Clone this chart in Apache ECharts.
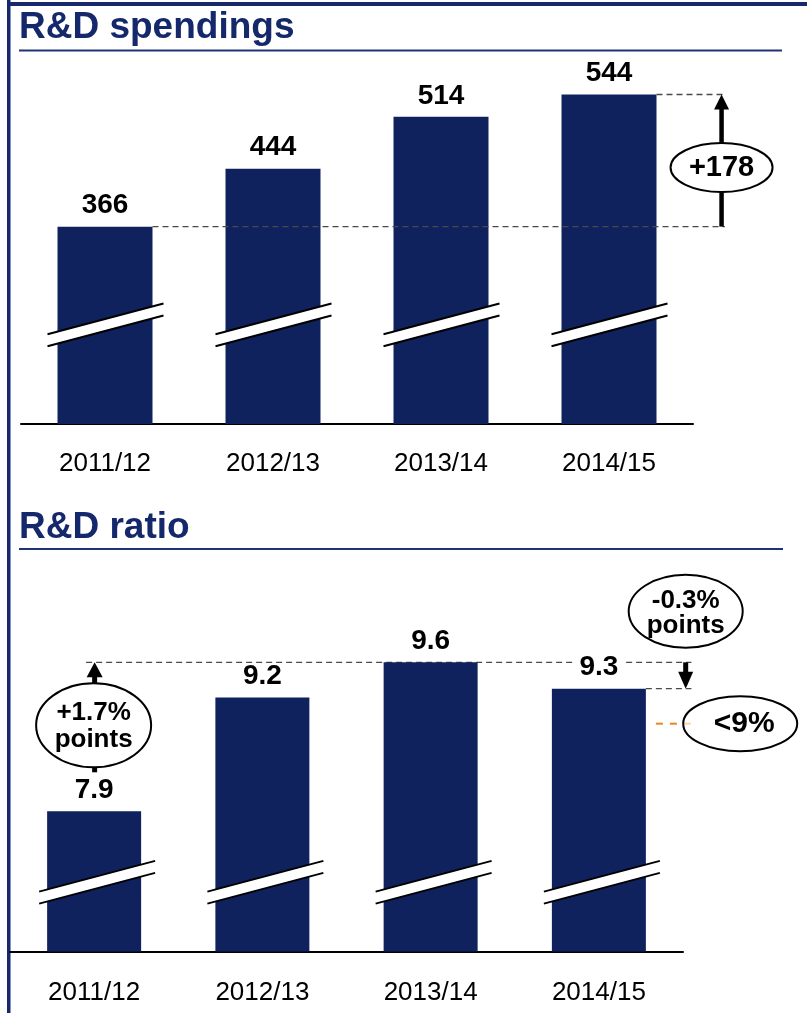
<!DOCTYPE html>
<html>
<head>
<meta charset="utf-8">
<script src="https://cdn.jsdelivr.net/npm/echarts@6/dist/echarts.min.js"></script>
<style>
  html, body { margin: 0; padding: 0; background: #fff; }
  #chart { width: 807px; height: 1013px; }
</style>
</head>
<body>
<div id="chart"></div>
<script>
// ---- data ----
const years = ['2011/12', '2012/13', '2013/14', '2014/15'];
const spendings = [366, 444, 514, 544];      // R&D spendings
const ratio = [7.9, 9.2, 9.6, 9.3];          // R&D ratio, %
const ratioTarget = 8.9;                     // target level, just under 9 %
const ratioTargetLabel = '<9%';

// ---- styles ----
const NAVY = '#10225e';
const FRAME = '#17296c';
const FONT = "'Liberation Sans', Arial, Helvetica, sans-serif";
const DASH = { stroke: '#4a4a4a', lineWidth: 1.4, lineDash: [6, 4] };

// axis-break stripe drawn across each bar
function breakMark(level, dx) {
  return function (params, api) {
    const c = api.coord([api.value(0), level]);
    const x = c[0] + dx, y = c[1];
    const L = 58, dy = L * 0.265, g = 6;
    const p1 = [x - L, y - g + dy], p2 = [x + L, y - g - dy];
    const p3 = [x + L, y + g - dy], p4 = [x - L, y + g + dy];
    return {
      type: 'group',
      children: [
        { type: 'polygon', shape: { points: [p1, p2, p3, p4] }, style: { fill: '#fff' } },
        { type: 'line', shape: { x1: p1[0], y1: p1[1], x2: p2[0], y2: p2[1] }, style: { stroke: '#000', lineWidth: 2 } },
        { type: 'line', shape: { x1: p4[0], y1: p4[1], x2: p3[0], y2: p3[1] }, style: { stroke: '#000', lineWidth: 2 } }
      ]
    };
  };
}

function textEl(text, x, y, size, lh) {
  return {
    type: 'text',
    style: {
      text: text, x: x, y: y, align: 'center', verticalAlign: 'middle',
      font: 'bold ' + size + 'px ' + FONT, lineHeight: lh || size, fill: '#000'
    }
  };
}

// growth note for the spendings panel
function spendNote(params, api) {
  const p0 = api.coord([0, spendings[0]]);
  const p3 = api.coord([3, spendings[3]]);
  const band = api.coord([1, spendings[0]])[0] - p0[0];
  const half = 47.5;
  const ax = p3[0] + band * 0.67;
  const xEnd = p3[0] + band * 0.69;
  const cy = (p0[1] + p3[1]) / 2 + 7;
  const diff = spendings[3] - spendings[0];
  return {
    type: 'group',
    children: [
      { type: 'line', shape: { x1: p0[0] + half, y1: p0[1], x2: xEnd, y2: p0[1] }, style: DASH },
      { type: 'line', shape: { x1: p3[0] + half, y1: p3[1], x2: xEnd, y2: p3[1] }, style: DASH },
      { type: 'line', shape: { x1: ax, y1: p0[1], x2: ax, y2: p3[1] + 12 }, style: { stroke: '#000', lineWidth: 4.5 } },
      { type: 'polygon', shape: { points: [[ax, p3[1]], [ax - 7.5, p3[1] + 15], [ax + 7.5, p3[1] + 15]] }, style: { fill: '#000' } },
      { type: 'ellipse', shape: { cx: ax, cy: cy, rx: 51, ry: 24.5 }, style: { fill: '#fff', stroke: '#000', lineWidth: 2 } },
      textEl('+' + diff, ax, cy, 29)
    ]
  };
}

// change notes for the ratio panel
function ratioNote(params, api) {
  const p0 = api.coord([0, ratio[0]]);
  const p2 = api.coord([2, ratio[2]]);
  const p3 = api.coord([3, ratio[3]]);
  const pt = api.coord([3, ratioTarget]);
  const band = api.coord([1, ratio[0]])[0] - p0[0];
  const half = 47;
  const xEnd = p3[0] + band * 0.55;
  const xa = p3[0] + band * 0.516;
  const up = (ratio[2] - ratio[0]).toFixed(1);
  const down = (ratio[3] - ratio[2]).toFixed(1);
  const ux = p0[0] + 0.5;
  const upCy = p2[1] + 63;
  const downCy = p2[1] - 51;
  return {
    type: 'group',
    children: [
      { type: 'line', shape: { x1: p0[0] - 8, y1: p2[1], x2: xEnd, y2: p2[1] }, style: DASH },
      { type: 'line', shape: { x1: p3[0] + half, y1: p3[1], x2: xEnd, y2: p3[1] }, style: DASH },
      { type: 'line', shape: { x1: p3[0] + half + 10, y1: pt[1], x2: xEnd, y2: pt[1] },
        style: { stroke: '#e8861c', lineWidth: 2, lineDash: [7, 7] } },
      // upward arrow from 2011/12 to the 2013/14 level
      { type: 'line', shape: { x1: ux, y1: p0[1] - 39, x2: ux, y2: p2[1] + 12 }, style: { stroke: '#000', lineWidth: 5 } },
      { type: 'polygon', shape: { points: [[ux, p2[1]], [ux - 8, p2[1] + 15], [ux + 8, p2[1] + 15]] }, style: { fill: '#000' } },
      { type: 'ellipse', shape: { cx: ux - 1, cy: upCy, rx: 57.5, ry: 42 }, style: { fill: '#fff', stroke: '#000', lineWidth: 2 } },
      textEl('+' + up + '%\npoints', ux - 1, upCy + 1, 26, 27),
      // downward arrow from the 2013/14 level to 2014/15
      { type: 'line', shape: { x1: xa, y1: p2[1], x2: xa, y2: p3[1] - 14 }, style: { stroke: '#000', lineWidth: 5 } },
      { type: 'polygon', shape: { points: [[xa, p3[1]], [xa - 7.5, p3[1] - 17], [xa + 7.5, p3[1] - 17]] }, style: { fill: '#000' } },
      { type: 'ellipse', shape: { cx: xa, cy: downCy, rx: 57, ry: 36.5 }, style: { fill: '#fff', stroke: '#000', lineWidth: 2 } },
      textEl(down + '%\npoints', xa, downCy + 2, 26, 25),
      // target bubble
      { type: 'ellipse', shape: { cx: p3[0] + band * 0.84, cy: pt[1], rx: 57, ry: 27.5 },
        style: { fill: 'rgba(255,255,255,0.65)', stroke: '#000', lineWidth: 2 } },
      textEl(ratioTargetLabel, p3[0] + band * 0.84 + 4, pt[1], 30)
    ]
  };
}

const chart = echarts.init(document.getElementById('chart'), null, { renderer: 'canvas' });

const xAxisBase = {
  type: 'category',
  data: years,
  axisLine: { lineStyle: { color: '#000', width: 2 } },
  axisTick: { show: false },
  axisLabel: { fontSize: 26, lineHeight: 26, color: '#000', fontFamily: FONT }
};
const yAxisBase = {
  type: 'value',
  show: false,
  splitLine: { show: false }
};
const barLabel = {
  show: true, position: 'top', distance: 7,
  fontSize: 28, lineHeight: 28, fontWeight: 'bold', color: '#000', fontFamily: FONT
};

chart.setOption({
  animation: false,
  backgroundColor: '#fff',
  title: [
    { text: 'R&D spendings', left: 19, top: 9, padding: 0,
      textStyle: { fontSize: 37, lineHeight: 37, fontWeight: 'bold', color: '#14286b', fontFamily: FONT } },
    { text: 'R&D ratio', left: 19, top: 509, padding: 0,
      textStyle: { fontSize: 37, lineHeight: 37, fontWeight: 'bold', color: '#14286b', fontFamily: FONT } }
  ],
  graphic: [
    { type: 'rect', shape: { x: 7, y: 0, width: 3.5, height: 1013 }, style: { fill: FRAME } },
    { type: 'rect', shape: { x: 7, y: 2, width: 800, height: 4 }, style: { fill: FRAME } },
    { type: 'rect', shape: { x: 19, y: 49.5, width: 763, height: 2 }, style: { fill: '#1f3377' } },
    { type: 'rect', shape: { x: 19, y: 548, width: 764, height: 2 }, style: { fill: '#1f3377' } }
  ],
  grid: [
    { left: 21, right: 114, top: 53, height: 371 },
    { left: 10, right: 124, top: 601, height: 350.5 }
  ],
  xAxis: [
    Object.assign({ gridIndex: 0 }, xAxisBase, { axisLabel: Object.assign({}, xAxisBase.axisLabel, { margin: 27 }) }),
    Object.assign({ gridIndex: 1 }, xAxisBase, { axisLabel: Object.assign({}, xAxisBase.axisLabel, { margin: 28 }) })
  ],
  yAxis: [
    Object.assign({ gridIndex: 0, min: 100, max: 600 }, yAxisBase),
    Object.assign({ gridIndex: 1, min: 6.3, max: 10.3 }, yAxisBase)
  ],
  series: [
    {
      type: 'bar', xAxisIndex: 0, yAxisIndex: 0, z: 2,
      data: spendings, barWidth: 95,
      itemStyle: { color: NAVY }, label: barLabel
    },
    {
      type: 'bar', xAxisIndex: 1, yAxisIndex: 1, z: 2,
      data: ratio.map((v, i) => i === 3
        ? { value: v, label: { backgroundColor: '#fff', padding: [0, 5] } }
        : v),
      barWidth: 94,
      itemStyle: { color: NAVY }, label: barLabel
    },
    {
      type: 'custom', xAxisIndex: 0, yAxisIndex: 0, z: 3,
      data: years.map((_, i) => [i, 233]),
      encode: { x: 0, y: 1 },
      renderItem: breakMark(233.5, 0.5)
    },
    {
      type: 'custom', xAxisIndex: 1, yAxisIndex: 1, z: 3,
      data: years.map((_, i) => [i, 7.09]),
      encode: { x: 0, y: 1 },
      renderItem: breakMark(7.09, 3)
    },
    {
      type: 'custom', xAxisIndex: 0, yAxisIndex: 0, z: 3,
      data: [[0, spendings[0]]],
      encode: { x: 0, y: 1 },
      renderItem: spendNote
    },
    {
      type: 'custom', xAxisIndex: 1, yAxisIndex: 1, z: 1,
      data: [[0, ratio[0]]],
      encode: { x: 0, y: 1 },
      renderItem: ratioNote
    }
  ]
});
</script>
</body>
</html>
